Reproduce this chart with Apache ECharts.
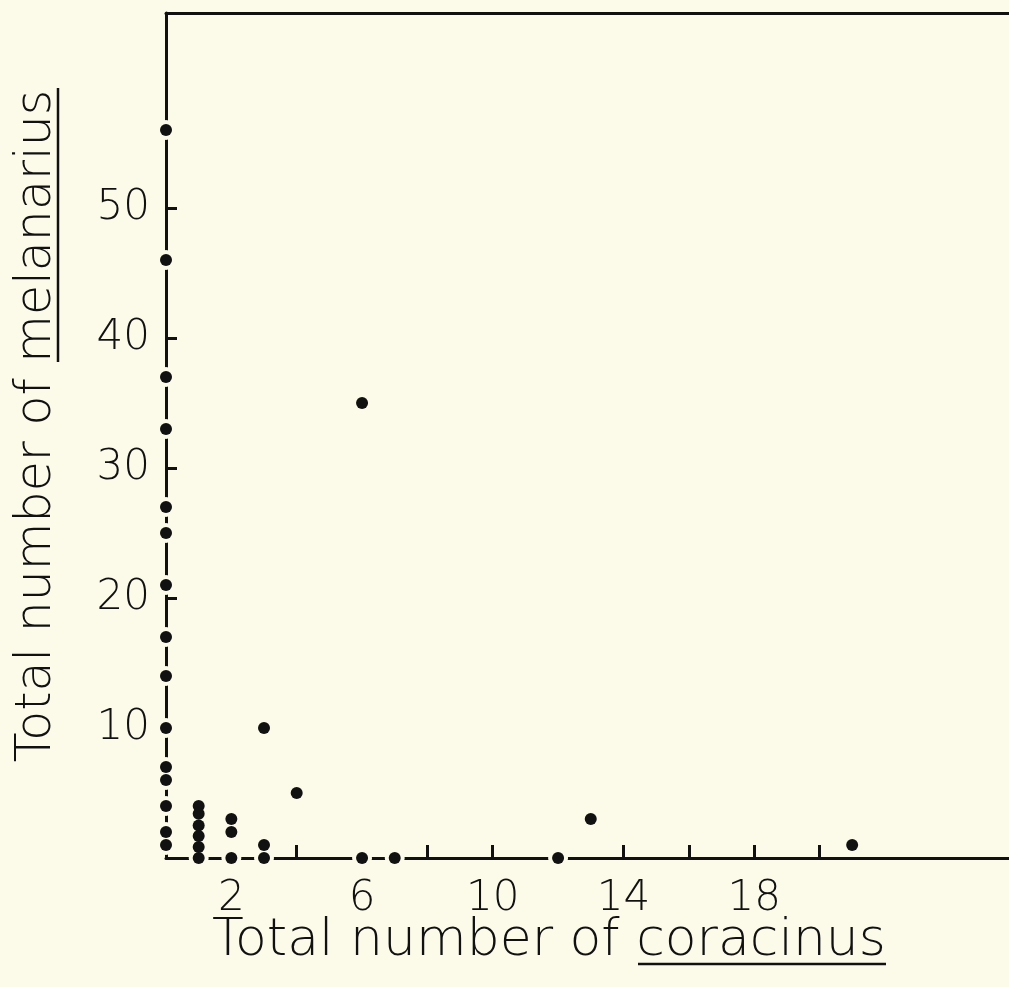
<!DOCTYPE html>
<html>
<head>
<meta charset="utf-8">
<script src="https://cdn.jsdelivr.net/npm/echarts@6/dist/echarts.min.js"></script>
<style>
html,body{margin:0;padding:0;background:#fcfbea;}
#chart{width:1009px;height:987px;}
</style>
</head>
<body>
<div id="chart"></div>
<script>
// Data
const coracinus  = [0,0,0,0,0,0,0,0,0,0,0,0,0,0,0, 1,1,1,1,1,1, 2,2,2, 3,3,3, 4, 6,6, 7, 12, 13, 21];
const melanarius = [56,46,37,33,27,25,21,17,14,10,7,6,4,2,1, 4,3.4,2.5,1.7,0.85,0, 3,2,0, 10,1,0, 5, 35,0, 0, 0, 3, 1];
// tick marks visible in the reference (those at 2, 6, 12 and y=10 are hidden behind points)
const xTickValues  = [4,8,10,14,16,18,20];
const xLabelValues = [2,6,10,14,18];
const yTickValues  = [20,30,40,50];
const yLabelValues = [10,20,30,40,50];
const xTitle = 'Total number of ';
const xTitleU = 'coracinus';
const yTitle = 'Total number of ';
const yTitleU = 'melanarius';

const ink = '#111111';
const bg = '#fcfbea';
const font = 'DejaVu Sans';
const weight = 200;

const points = coracinus.map((x, i) => [x, melanarius[i]]);

const chart = echarts.init(document.getElementById('chart'), null, {renderer: 'canvas'});
chart.setOption({
  backgroundColor: bg,
  animation: false,
  grid: {left: 166, top: 13, bottom: 129, right: 0, containLabel: false},
  xAxis: [{
    type: 'value', min: 0, max: 25.8, interval: 2,
    splitLine: {show: false},
    axisLine: {show: true, lineStyle: {color: ink, width: 3}},
    axisTick: {show: true, inside: true, length: 13, customValues: xTickValues, lineStyle: {color: ink, width: 3}},
    axisLabel: {show: true, customValues: xLabelValues, margin: 20, color: ink, fontSize: 42, fontFamily: font, fontWeight: weight}
  }, {
    type: 'value', position: 'top', min: 0, max: 25.8,
    splitLine: {show: false},
    axisLine: {show: true, onZero: false, lineStyle: {color: ink, width: 3}},
    axisTick: {show: false}, axisLabel: {show: false}
  }],
  yAxis: {
    type: 'value', min: 0, max: 65, interval: 5,
    splitLine: {show: false},
    axisLine: {show: true, lineStyle: {color: ink, width: 3}},
    axisTick: {show: true, inside: true, length: 11, customValues: yTickValues, lineStyle: {color: ink, width: 3}},
    axisLabel: {show: true, customValues: yLabelValues, margin: 16, color: ink, fontSize: 42, fontFamily: font, fontWeight: weight}
  },
  series: [{
    type: 'scatter', name: 'halo', data: points, symbol: 'circle', symbolSize: 20,
    itemStyle: {color: bg, opacity: 1}, z: 2, silent: true
  }, {
    type: 'scatter', name: 'points', data: points, symbol: 'circle', symbolSize: 12,
    itemStyle: {color: ink, opacity: 1}, z: 3
  }],
  graphic: [{
    type: 'text', x: 549, y: 941, z: 10,
    style: {text: xTitle + xTitleU, fill: ink, font: weight + ' 52px "DejaVu Sans"', textAlign: 'center', textVerticalAlign: 'middle'}
  }, {
    type: 'line', z: 10,
    shape: {x1: 638, y1: 964, x2: 886, y2: 964},
    style: {stroke: ink, lineWidth: 2.5}
  }, {
    type: 'text', x: 37, y: 426, rotation: Math.PI / 2, z: 10,
    style: {text: yTitle + yTitleU, fill: ink, font: weight + ' 49px "DejaVu Sans"', textAlign: 'center', textVerticalAlign: 'middle'}
  }, {
    type: 'line', z: 10,
    shape: {x1: 58, y1: 88, x2: 58, y2: 362},
    style: {stroke: ink, lineWidth: 2.5}
  }]
});
</script>
</body>
</html>
